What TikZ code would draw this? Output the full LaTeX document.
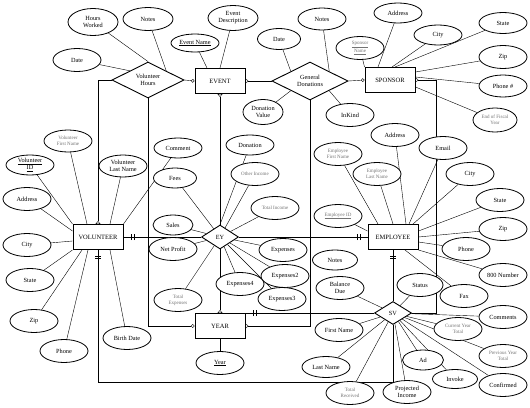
\documentclass[tikz,border=0pt]{standalone}
\usepackage{fontspec}
\setmainfont{Liberation Serif}
\usetikzlibrary{shapes.geometric,arrows.meta,decorations.markings,backgrounds}
\tikzset{
  ent/.style={draw, fill=white, line width=1pt, minimum width=50pt, minimum height=25pt, inner sep=0pt, font=\fontsize{6.5}{7.5}\selectfont},
  rel/.style={draw, diamond, aspect=2, fill=white, line width=0.9pt, inner sep=0pt, align=center, font=\fontsize{6.3}{7}\selectfont},
  attr/.style={draw, ellipse, fill=white, line width=0.8pt, minimum width=48pt, minimum height=23pt, inner sep=0pt, align=center, font=\fontsize{6.3}{7}\selectfont},
  pale/.style={attr, text=black!55, font=\fontsize{5}{6}\selectfont},
  conn/.style={line width=0.75pt},
  crow/.tip={Triangle[open,reversed,length=3pt,width=5pt]},
  ring/.tip={Circle[open,length=3.5pt]},
  bars/.style={postaction={decorate, decoration={markings, mark=at position #1 with {\draw[line width=0.6pt] (0,-3pt) -- (0,3pt) (2.5pt,-3pt) -- (2.5pt,3pt);}}}},
}
\begin{document}
\begin{tikzpicture}[x=1pt, y=-1pt]
  \useasboundingbox (0,0) rectangle (530,407);
  % エンティティ
  \node[ent] (evt) at (220,81) {EVENT};
  \node[ent] (spn) at (390,80) {SPONSOR};
  \node[ent] (vol) at (98,237) {VOLUNTEER};
  \node[ent] (emp) at (393,237) {EMPLOYEE};
  \node[ent] (yr) at (220,326) {YEAR};
  % 関連
  \node[rel, minimum width=72pt, minimum height=36pt] (vh) at (148,80) {Volunteer\\Hours};
  \node[rel, minimum width=76pt, minimum height=38pt] (gd) at (310,81) {General\\Donations};
  \node[rel, minimum width=37pt, minimum height=24pt] (ey) at (220,237) {EY};
  \node[rel, minimum width=37pt, minimum height=23pt] (sv) at (393,313) {SV};
  % 属性 (Volunteer Hours, EVENT, General Donations)
  \node[attr, minimum width=50pt, minimum height=27pt] (a-hw) at (93,22) {Hours\\Worked};
  \node[attr, minimum width=50pt] (a-vhn) at (148,19) {Notes};
  \node[attr] (a-vhd) at (77,60) {Date};
  \node[attr, minimum height=18pt] (a-en) at (195,43) {\underline{Event Name}};
  \node[attr, minimum width=50pt, minimum height=25pt] (a-ed) at (233,18) {Event\\Description};
  \node[attr, minimum width=43pt, minimum height=21pt] (a-gdd) at (279,39) {Date};
  \node[attr, minimum height=22pt] (a-gdn) at (322,19) {Notes};
  \node[attr, minimum width=40pt, minimum height=25pt] (a-dv) at (263,112) {Donation\\Value};
  \node[attr] (a-ik) at (350,115) {InKind};
  % 属性 (SPONSOR)
  \node[attr, minimum height=20pt] (a-sa) at (398,13) {Address};
  \node[pale] (a-sn) at (360,48) {\underline{Sponsor}\\\underline{Name}};
  \node[attr, minimum height=20pt] (a-sc) at (438,35) {City};
  \node[attr, minimum height=21pt] (a-ss) at (503,23) {State};
  \node[attr] (a-sz) at (503,57) {Zip};
  \node[attr, minimum height=22pt] (a-sp) at (503,86) {Phone \#};
  \node[pale, minimum width=44pt, minimum height=24pt] (a-sf) at (495,120) {End of Fiscal\\Year};
  % 属性 (VOLUNTEER)
  \node[pale, minimum height=22pt] (a-vfn) at (68,141) {Volunteer\\First Name};
  \node[attr, minimum height=20pt] (a-vid) at (30,165) {\underline{Volunteer}\\\underline{ID}};
  \node[attr, minimum height=22pt] (a-vln) at (123,166) {Volunteer\\Last Name};
  \node[attr] (a-va) at (27,199) {Address};
  \node[attr] (a-vc) at (27,245) {City};
  \node[attr] (a-vs) at (30,280) {State};
  \node[attr] (a-vz) at (34,321) {Zip};
  \node[attr] (a-vp) at (64,351) {Phone};
  \node[attr] (a-vb) at (127,338) {Birth Date};
  \node[attr, minimum height=20pt] (a-cm) at (178,148) {Comment};
  % 属性 (EY, YEAR)
  \node[attr, minimum width=43pt, minimum height=20pt] (a-fe) at (175,178) {Fees};
  \node[attr, minimum width=40pt, minimum height=20pt] (a-sl) at (173,225) {Sales};
  \node[attr] (a-np) at (173,249) {Net Profit};
  \node[attr, minimum height=20pt] (a-do) at (250,145) {Donation};
  \node[pale] (a-oi) at (255,174) {Other Income};
  \node[pale] (a-ti) at (275,208) {Total Income};
  \node[attr] (a-x1) at (283,250) {Expenses};
  \node[attr] (a-x2) at (285,276) {Expenses2};
  \node[attr] (a-x3) at (282,299) {Expenses3};
  \node[attr] (a-x4) at (240,284) {Expenses4};
  \node[pale] (a-te) at (178,300) {Total\\Expenses};
  \node[attr] (a-yr) at (220,363) {\underline{Year}};
  % 属性 (EMPLOYEE)
  \node[attr] (a-ea) at (395,135) {Address};
  \node[attr] (a-em) at (443,148) {Email};
  \node[pale] (a-efn) at (338,154) {Employee\\First Name};
  \node[pale] (a-eln) at (377,174) {Employee\\Last Name};
  \node[attr] (a-ec) at (470,174) {City};
  \node[attr] (a-es) at (500,200) {State};
  \node[pale] (a-eid) at (338,216) {\underline{Employee ID}};
  \node[attr] (a-ez) at (503,229) {Zip};
  \node[attr] (a-ep) at (466,249) {Phone};
  \node[attr] (a-e8) at (503,275) {800 Number};
  \node[attr] (a-ef) at (464,296) {Fax};
  \node[attr, minimum width=45pt, minimum height=20pt] (a-eno) at (335,260) {Notes};
  % 属性 (SV)
  \node[attr] (a-bd) at (340,288) {Balance\\Due};
  \node[attr, minimum width=46pt] (a-st) at (420,285) {Status};
  \node[attr] (a-fn) at (339,330) {First Name};
  \node[attr, minimum height=21pt] (a-ln) at (326,367) {Last Name};
  \node[pale] (a-tr) at (350,393) {Total\\Received};
  \node[attr] (a-pi) at (407,392) {Projected\\Income};
  \node[attr, minimum width=41pt, minimum height=20pt] (a-ad) at (423,360) {Ad};
  \node[attr, minimum width=45pt, minimum height=19pt] (a-iv) at (455,379) {Invoke};
  \node[attr] (a-cf) at (503,385) {Confirmed};
  \node[pale] (a-py) at (503,356) {Previous Year\\Total};
  \node[pale] (a-cy) at (458,329) {Current Year\\Total};
  \node[attr] (a-cs) at (503,317) {Comments};

  \begin{scope}[on background layer, conn]
    % 接続線
    \draw[-{ring}] (vh.east) -- (evt.west);
    \draw[{crow}-] (evt.east) -- (gd.west);
    \draw[-{ring}] (gd.east) -- (spn.west);
    \draw[{crow}-] (spn.east) -- ++(21,0) |- (sv.east);
    \draw[-{crow}] (vh.west) -| (vol.north);
    \draw[-{ring}] (vh.south) |- (yr.west);
    \draw[{crow}-] (evt.south) -- (ey.north);
    \draw[-{crow}] (ey.south) -- (yr.north);
    \draw[-{crow}] (gd.south) |- (yr.east);
    \draw[bars=8pt] (vol.east) -- (ey.west);
    \draw[bars=-10pt] (ey.east) -- (emp.west);
    \draw[bars=8pt] (yr.north east) -- (sv.west);
    \draw[bars=6pt] (vol.south) -- ++(0,132) -| (sv.south);
    \draw[bars=6pt] (emp.south) -- (sv.north);
    % 属性の線
    \draw (a-hw) -- (vh.north);
    \draw (a-vhn) -- (vh.north east);
    \draw (a-vhd) -- (vh.north west);
    \draw (a-en) -- ([xshift=-13pt]evt.north);
    \draw (a-ed) -- (evt.north);
    \draw (a-gdd) -- (gd.north west);
    \draw (a-gdn) -- (gd.north east);
    \draw (a-dv) -- (gd.south west);
    \draw (a-ik) -- (gd.south east);
    \draw (a-sa) -- ([xshift=-12pt]spn.north);
    \draw (a-sn) -- (spn.north west);
    \draw (a-sc) -- ([xshift=2pt]spn.north);
    \draw (a-ss) -- ([xshift=5pt]spn.north);
    \draw (a-sz) -- ([yshift=8pt]spn.east);
    \draw (a-sp) -- ([yshift=3pt]spn.east);
    \draw (a-sf) -- ([yshift=-7pt]spn.east);
    \draw (a-vfn) -- ([xshift=-11pt]vol.north);
    \draw (a-vid) -- (vol.north west);
    \draw (a-vln) -- ([xshift=12pt]vol.north);
    \draw (a-cm) -- (vol.north east);
    \draw (a-va) -- ([yshift=6pt]vol.west);
    \draw (a-vc) -- ([yshift=-4pt]vol.west);
    \draw (a-vs) -- (vol.south west);
    \draw (a-vz) -- ([xshift=-16pt]vol.south);
    \draw (a-vp) -- ([xshift=-10pt]vol.south);
    \draw (a-vb) -- ([xshift=12pt]vol.south);
    \draw (a-do) -- (ey.north);
    \foreach \a in {a-fe,a-sl,a-np,a-oi,a-ti,a-x1,a-x2,a-x3,a-x4,a-te}
      \draw (\a) -- (ey);
    \draw (a-yr) -- (yr);
    \draw (a-ea) -- ([xshift=13pt]emp.north);
    \draw (a-em) -- ([xshift=16pt]emp.north);
    \draw (a-efn) -- ([xshift=-15pt]emp.north);
    \draw (a-eln) -- (emp.north);
    \draw (a-ec) -- ([xshift=20pt]emp.north);
    \draw (a-es) -- ([yshift=6pt]emp.east);
    \draw (a-eid) -- ([yshift=6pt]emp.west);
    \draw (a-ez) -- (emp.east);
    \draw (a-ep) -- ([yshift=-5pt]emp.east);
    \draw (a-e8) -- (emp.south east);
    \draw (a-ef) -- ([xshift=12pt]emp.south);
    \foreach \a in {a-bd,a-st,a-fn,a-ln,a-tr,a-pi,a-ad,a-iv,a-cf,a-py,a-cy,a-cs}
      \draw (\a) -- (sv);
  \end{scope}
\end{tikzpicture}
\end{document}
